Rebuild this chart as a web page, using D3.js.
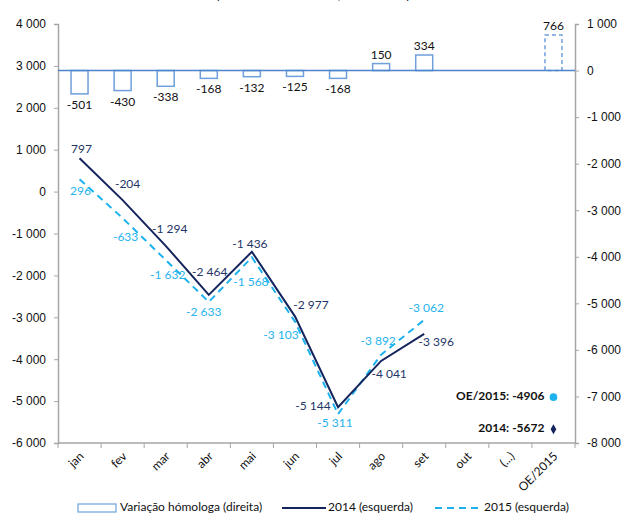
<!DOCTYPE html>
<html>
<head>
<meta charset="utf-8">
<script src="https://cdn.jsdelivr.net/npm/d3@7"></script>
<style>
  body { margin: 0; background: #fff; }
  svg { font-family: Lato, "Liberation Sans", sans-serif; }
</style>
</head>
<body>
<script>
// categories and values
var months = ['jan', 'fev', 'mar', 'abr', 'mai', 'jun', 'jul', 'ago', 'set', 'out', '(...)', 'OE/2015'];
var varHomologa = [-501, -430, -338, -168, -132, -125, -168, 150, 334, null, null, 766];
var serie2014 = [797, -204, -1294, -2464, -1436, -2977, -5144, -4041, -3396];
var serie2015 = [296, -633, -1632, -2633, -1568, -3103, -5311, -3892, -3062];
var oe2015 = -4906;
var total2014 = -5672;
var leftTicks = [-6000, -5000, -4000, -3000, -2000, -1000, 0, 1000, 2000, 3000, 4000];
var rightTicks = [-8000, -7000, -6000, -5000, -4000, -3000, -2000, -1000, 0, 1000];

var width = 622, height = 514;
var margin = {left: 58, right: 47, top: 24, bottom: 71};

var navy = '#14245c', sky = '#1db2ee', barBlue = '#6f9fdc', baseBlue = '#4f84cc', grey = '#a6a6a6';

var pt = d3.formatLocale({decimal: ',', thousands: '\u00a0', grouping: [3], minus: '-'}).format(',d');

var x = d3.scaleBand()
    .domain(months)
    .range([margin.left, width - margin.right]);

var yL = d3.scaleLinear() // left axis, the two lines
    .domain([-6000, 4000])
    .range([height - margin.bottom, margin.top]);

var yR = d3.scaleLinear() // right axis, the bars
    .domain([-8000, 1000])
    .range([height - margin.bottom, margin.top]);

var svg = d3.select('body').append('svg')
    .attr('width', width)
    .attr('height', height);

// title, clipped at the top of the frame as in the original
svg.append('text')
    .attr('x', 313).attr('y', -1)
    .attr('text-anchor', 'middle')
    .attr('font-size', 13).attr('font-weight', 'bold')
    .attr('fill', '#222')
    .text('(em milhões de euros, acumulado)');

// axes
var leftAxis = d3.axisLeft(yL).tickValues(leftTicks).tickSize(4).tickPadding(8).tickFormat(pt);
var rightAxis = d3.axisRight(yR).tickValues(rightTicks).tickSize(4).tickPadding(8).tickFormat(pt);

var gl = svg.append('g').attr('transform', 'translate(' + margin.left + ',0)').call(leftAxis);
var gr = svg.append('g').attr('transform', 'translate(' + (width - margin.right) + ',0)').call(rightAxis);

[gl, gr].forEach(function(g) {
  g.select('.domain').attr('stroke', grey).attr('stroke-width', 1.5);
  g.selectAll('.tick line').attr('stroke', grey);
  g.selectAll('.tick text').attr('font-size', 12).attr('fill', '#111');
});

// bottom axis with ticks between categories
var bottomY = yL(-6000);
svg.append('line')
    .attr('x1', margin.left).attr('x2', width - margin.right)
    .attr('y1', bottomY).attr('y2', bottomY)
    .attr('stroke', grey).attr('stroke-width', 1.5);

svg.append('g').selectAll('line')
    .data(months.concat(['end']))
    .enter().append('line')
    .attr('x1', function(d, i) { return margin.left + i * x.step(); })
    .attr('x2', function(d, i) { return margin.left + i * x.step(); })
    .attr('y1', bottomY).attr('y2', bottomY + 5)
    .attr('stroke', grey);

svg.append('g').selectAll('text')
    .data(months)
    .enter().append('text')
    .attr('transform', function(d) {
      return 'translate(' + (x(d) + x.bandwidth() / 2 + 5) + ',' + (bottomY + 14) + ') rotate(-45)';
    })
    .attr('text-anchor', 'end')
    .attr('font-size', 12)
    .attr('fill', '#111')
    .text(function(d) { return d; });

// bars (right axis)
var barW = 17;
var bars = months.map(function(m, i) { return {m: m, v: varHomologa[i]}; })
    .filter(function(d) { return d.v !== null; });

svg.append('g').selectAll('rect')
    .data(bars)
    .enter().append('rect')
    .attr('x', function(d) { return x(d.m) + x.bandwidth() / 2 - barW / 2; })
    .attr('y', function(d) { return Math.min(yR(d.v), yR(0)); })
    .attr('width', barW)
    .attr('height', function(d) { return Math.abs(yR(d.v) - yR(0)); })
    .attr('fill', '#fff')
    .attr('stroke', barBlue)
    .attr('stroke-width', 1.5)
    .attr('stroke-dasharray', function(d) { return d.m === 'OE/2015' ? '4,3' : null; });

svg.append('line')
    .attr('x1', margin.left).attr('x2', width - margin.right)
    .attr('y1', yR(0)).attr('y2', yR(0))
    .attr('stroke', baseBlue).attr('stroke-width', 1.5);

svg.append('g').selectAll('text')
    .data(bars)
    .enter().append('text')
    .attr('x', function(d) { return x(d.m) + x.bandwidth() / 2; })
    .attr('y', function(d) { return d.v < 0 ? yR(d.v) + 15 : yR(d.v) - 5; })
    .attr('text-anchor', 'middle')
    .attr('font-size', 12)
    .attr('fill', '#111')
    .text(function(d) { return pt(d.v); });

// lines (left axis)
var line = d3.line()
    .x(function(d, i) { return x(months[i]) + x.bandwidth() / 2; })
    .y(function(d) { return yL(d); });

svg.append('path')
    .attr('d', line(serie2015))
    .attr('fill', 'none')
    .attr('stroke', sky)
    .attr('stroke-width', 2)
    .attr('stroke-dasharray', '7,5');

svg.append('path')
    .attr('d', line(serie2014))
    .attr('fill', 'none')
    .attr('stroke', navy)
    .attr('stroke-width', 2);

// label offsets [dx, dy] from each point
var off2014 = [[2, -8], [5, -15], [4, -16], [1, -22], [-2, -7], [16, -10], [-25, 0], [8, 14], [12, 9]];
var off2015 = [[1, 13], [3, 20], [2, 16], [-5, 11], [-1, 26], [-14, 14], [-3, 10], [-3, -13], [2, -11]];

function labels(data, offs, color) {
  svg.append('g').selectAll('text')
      .data(data)
      .enter().append('text')
      .attr('x', function(d, i) { return x(months[i]) + x.bandwidth() / 2 + offs[i][0]; })
      .attr('y', function(d, i) { return yL(d) + offs[i][1]; })
      .attr('text-anchor', 'middle')
      .attr('dominant-baseline', 'middle')
      .attr('font-size', 12)
      .attr('fill', color)
      .text(function(d) { return pt(d); });
}
labels(serie2014, off2014, '#1f3568');
labels(serie2015, off2015, '#27b3ee');

// year-end markers in the OE/2015 column
var cx = x('OE/2015') + x.bandwidth() / 2;
svg.append('circle')
    .attr('cx', cx).attr('cy', yL(oe2015)).attr('r', 3.8)
    .attr('fill', sky);
svg.append('path')
    .attr('d', d3.symbol().type(d3.symbolDiamond).size(28)())
    .attr('transform', 'translate(' + cx + ',' + yL(total2014) + ')')
    .attr('fill', navy);

svg.append('text')
    .attr('x', cx - 9).attr('y', yL(oe2015))
    .attr('dominant-baseline', 'middle')
    .attr('text-anchor', 'end')
    .attr('font-size', 12).attr('font-weight', 'bold').attr('fill', '#111')
    .text('OE/2015: ' + oe2015);
svg.append('text')
    .attr('x', cx - 9).attr('y', yL(total2014))
    .attr('dominant-baseline', 'middle')
    .attr('text-anchor', 'end')
    .attr('font-size', 12).attr('font-weight', 'bold').attr('fill', '#111')
    .text('2014: ' + total2014);

// legend
var legY = 508;
var leg = svg.append('g').attr('font-size', 12).attr('fill', '#111');
leg.append('rect')
    .attr('x', 78).attr('y', legY - 4).attr('width', 38).attr('height', 8)
    .attr('fill', '#fff').attr('stroke', barBlue).attr('stroke-width', 1.2);
leg.append('text').attr('x', 120).attr('y', legY).attr('dominant-baseline', 'middle')
    .text('Variação hómologa  (direita)');
leg.append('line')
    .attr('x1', 282).attr('x2', 326).attr('y1', legY).attr('y2', legY)
    .attr('stroke', navy).attr('stroke-width', 2);
leg.append('text').attr('x', 328).attr('y', legY).attr('dominant-baseline', 'middle')
    .text('2014 (esquerda)');
leg.append('line')
    .attr('x1', 435).attr('x2', 481).attr('y1', legY).attr('y2', legY)
    .attr('stroke', sky).attr('stroke-width', 2).attr('stroke-dasharray', '7,5');
leg.append('text').attr('x', 484).attr('y', legY).attr('dominant-baseline', 'middle')
    .text('2015 (esquerda)');
</script>
</body>
</html>
